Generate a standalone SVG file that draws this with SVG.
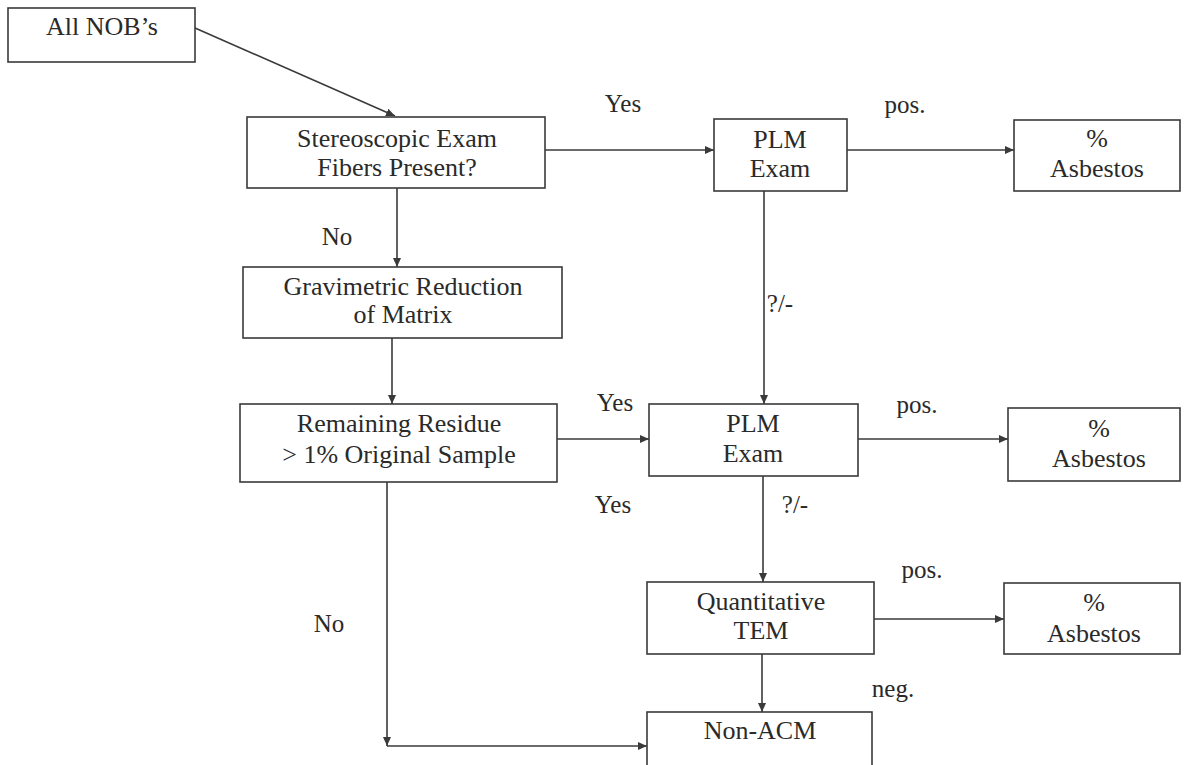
<svg xmlns="http://www.w3.org/2000/svg" width="1184" height="765" viewBox="0 0 1184 765">
<style>
.box{fill:#fff;stroke:#3a3a3a;stroke-width:1.6}
.t{font-family:"Liberation Serif","Times New Roman",serif;font-size:26px;fill:#2a2a2a;text-anchor:middle}
.l{font-family:"Liberation Serif","Times New Roman",serif;font-size:25px;fill:#2a2a2a;text-anchor:middle}
.c{fill:none;stroke:#3a3a3a;stroke-width:1.6}
</style>
<defs>
<marker id="ah" viewBox="0 0 10 10" refX="10" refY="5" markerWidth="9" markerHeight="8" markerUnits="userSpaceOnUse" orient="auto" preserveAspectRatio="none">
<path d="M0,0 L10,5 L0,10 z" fill="#3a3a3a"/>
</marker>
</defs>
<rect width="1184" height="765" fill="#fff"/>
<g id="connectors">
<line class="c" x1="195" y1="28" x2="395" y2="116" marker-end="url(#ah)"/>
<line class="c" x1="545" y1="150" x2="714" y2="150" marker-end="url(#ah)"/>
<line class="c" x1="847" y1="150" x2="1014" y2="150" marker-end="url(#ah)"/>
<line class="c" x1="397" y1="188" x2="397" y2="267" marker-end="url(#ah)"/>
<line class="c" x1="392" y1="338" x2="392" y2="404" marker-end="url(#ah)"/>
<line class="c" x1="764" y1="191" x2="764" y2="404" marker-end="url(#ah)"/>
<line class="c" x1="557" y1="439" x2="649" y2="439" marker-end="url(#ah)"/>
<line class="c" x1="858" y1="439" x2="1008" y2="439" marker-end="url(#ah)"/>
<line class="c" x1="763" y1="476" x2="763" y2="582" marker-end="url(#ah)"/>
<line class="c" x1="874" y1="619" x2="1004" y2="619" marker-end="url(#ah)"/>
<line class="c" x1="762" y1="654" x2="762" y2="712" marker-end="url(#ah)"/>
<line class="c" x1="387" y1="482" x2="387" y2="746" marker-end="url(#ah)"/>
<line class="c" x1="387" y1="746" x2="647" y2="746" marker-end="url(#ah)"/>
<text class="l" x="623" y="112">Yes</text>
<text class="l" x="905" y="113">pos.</text>
<text class="l" x="337" y="245">No</text>
<text class="l" x="780" y="312">?/-</text>
<text class="l" x="615" y="411">Yes</text>
<text class="l" x="917" y="413">pos.</text>
<text class="l" x="613" y="513">Yes</text>
<text class="l" x="795" y="513">?/-</text>
<text class="l" x="922" y="578">pos.</text>
<text class="l" x="329" y="632">No</text>
<text class="l" x="893" y="697">neg.</text>
</g>
<g id="n-allnobs">
<rect class="box" x="8" y="8" width="187" height="54"/>
<text class="t" x="102" y="35">All NOB’s</text>
</g>
<g id="n-stereo">
<rect class="box" x="247" y="117" width="298" height="71"/>
<text class="t" x="397" y="147">Stereoscopic Exam</text>
<text class="t" x="397" y="176">Fibers Present?</text>
</g>
<g id="n-plm1">
<rect class="box" x="714" y="119" width="133" height="72"/>
<text class="t" x="780" y="148">PLM</text>
<text class="t" x="780" y="177">Exam</text>
</g>
<g id="n-asb1">
<rect class="box" x="1014" y="120" width="166" height="71"/>
<text class="t" x="1097" y="147">%</text>
<text class="t" x="1097" y="177">Asbestos</text>
</g>
<g id="n-grav">
<rect class="box" x="243" y="267" width="319" height="71"/>
<text class="t" x="403" y="295">Gravimetric Reduction</text>
<text class="t" x="403" y="323">of Matrix</text>
</g>
<g id="n-residue">
<rect class="box" x="240" y="404" width="317" height="78"/>
<text class="t" x="399" y="432">Remaining Residue</text>
<text class="t" x="399" y="463">&gt; 1% Original Sample</text>
</g>
<g id="n-plm2">
<rect class="box" x="649" y="404" width="209" height="72"/>
<text class="t" x="753" y="432">PLM</text>
<text class="t" x="753" y="462">Exam</text>
</g>
<g id="n-asb2">
<rect class="box" x="1008" y="408" width="172" height="73"/>
<text class="t" x="1099" y="437">%</text>
<text class="t" x="1099" y="467">Asbestos</text>
</g>
<g id="n-tem">
<rect class="box" x="647" y="582" width="227" height="72"/>
<text class="t" x="761" y="610">Quantitative</text>
<text class="t" x="761" y="639">TEM</text>
</g>
<g id="n-asb3">
<rect class="box" x="1004" y="583" width="176" height="71"/>
<text class="t" x="1094" y="611">%</text>
<text class="t" x="1094" y="642">Asbestos</text>
</g>
<g id="n-nonacm">
<rect class="box" x="647" y="712" width="225" height="60"/>
<text class="t" x="760" y="739">Non-ACM</text>
</g>
</svg>
